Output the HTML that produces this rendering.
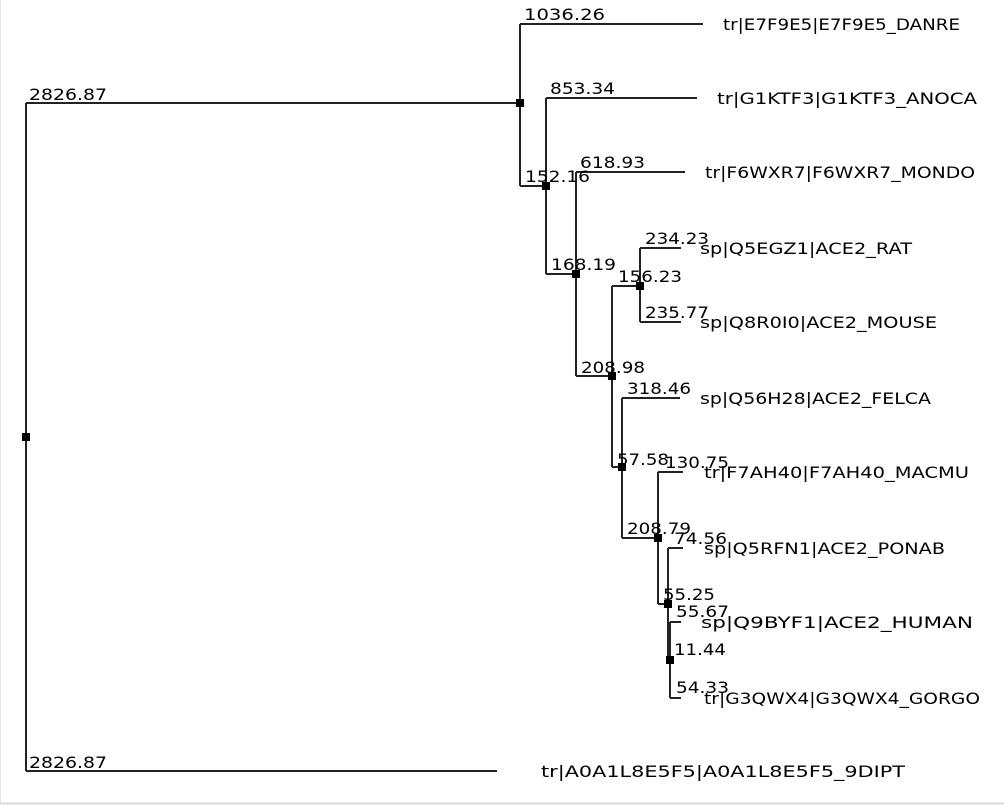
<!DOCTYPE html>
<html><head><meta charset="utf-8"><style>html,body{margin:0;padding:0;background:#fff}svg{display:block}</style></head>
<body>
<svg width="1004" height="806" viewBox="0 0 1004 806" xmlns="http://www.w3.org/2000/svg" font-family="'DejaVu Sans','Liberation Sans',sans-serif" font-size="16" fill="#000">
<line x1="0.5" y1="0" x2="0.5" y2="803" stroke="#e4e4e4"/>
<line x1="0" y1="803.5" x2="1004" y2="803.5" stroke="#d8d8d8" stroke-width="2"/>
<g stroke="#222" stroke-width="2" fill="none">
<path d="M26 103V771M26 103H520M26 771H497"/>
<path d="M520 24V186M520 24H703M520 186H546"/>
<path d="M546 98V274M546 98H697M546 274H576"/>
<path d="M576 172V376M576 172H685M576 376H612"/>
<path d="M612 286V467M612 286H640M612 467H622"/>
<path d="M640 248V322M640 248H681M640 322H681"/>
<path d="M622 398V538M622 398H680M622 538H658"/>
<path d="M658 472V604M658 472H683M658 604H668"/>
<path d="M668 548V660M668 548H683M668 660H670"/>
<path d="M670 622V698M670 622H681M670 698H681"/>
</g>
<g>
<rect x="22" y="433" width="8" height="8"/>
<rect x="516" y="99" width="8" height="8"/>
<rect x="542" y="182" width="8" height="8"/>
<rect x="572" y="270" width="8" height="8"/>
<rect x="608" y="372" width="8" height="8"/>
<rect x="636" y="282" width="8" height="8"/>
<rect x="618" y="463" width="8" height="8"/>
<rect x="654" y="534" width="8" height="8"/>
<rect x="664" y="600" width="8" height="8"/>
<rect x="666" y="656" width="8" height="8"/>
</g>
<g>
<text x="29" y="100" textLength="78" lengthAdjust="spacingAndGlyphs">2826.87</text>
<text x="29" y="768" textLength="78" lengthAdjust="spacingAndGlyphs">2826.87</text>
<text x="524" y="20" textLength="81" lengthAdjust="spacingAndGlyphs">1036.26</text>
<text x="550" y="94" textLength="65" lengthAdjust="spacingAndGlyphs">853.34</text>
<text x="525" y="182" textLength="65" lengthAdjust="spacingAndGlyphs">152.16</text>
<text x="580" y="168" textLength="65" lengthAdjust="spacingAndGlyphs">618.93</text>
<text x="551" y="270" textLength="65" lengthAdjust="spacingAndGlyphs">168.19</text>
<text x="645" y="244" textLength="64" lengthAdjust="spacingAndGlyphs">234.23</text>
<text x="618" y="282" textLength="64" lengthAdjust="spacingAndGlyphs">156.23</text>
<text x="645" y="318" textLength="64" lengthAdjust="spacingAndGlyphs">235.77</text>
<text x="581" y="373" textLength="64" lengthAdjust="spacingAndGlyphs">208.98</text>
<text x="627" y="394" textLength="64" lengthAdjust="spacingAndGlyphs">318.46</text>
<text x="617" y="465" textLength="52" lengthAdjust="spacingAndGlyphs">57.58</text>
<text x="665" y="468" textLength="64" lengthAdjust="spacingAndGlyphs">130.75</text>
<text x="627" y="534" textLength="64" lengthAdjust="spacingAndGlyphs">208.79</text>
<text x="674" y="544" textLength="53" lengthAdjust="spacingAndGlyphs">74.56</text>
<text x="663" y="600" textLength="52" lengthAdjust="spacingAndGlyphs">55.25</text>
<text x="676" y="617" textLength="53" lengthAdjust="spacingAndGlyphs">55.67</text>
<text x="674" y="655" textLength="52" lengthAdjust="spacingAndGlyphs">11.44</text>
<text x="676" y="693" textLength="53" lengthAdjust="spacingAndGlyphs">54.33</text>
</g>
<g>
<text x="723" y="30" textLength="237" lengthAdjust="spacingAndGlyphs">tr|E7F9E5|E7F9E5_DANRE</text>
<text x="717" y="104" textLength="260" lengthAdjust="spacingAndGlyphs">tr|G1KTF3|G1KTF3_ANOCA</text>
<text x="705" y="178" textLength="270" lengthAdjust="spacingAndGlyphs">tr|F6WXR7|F6WXR7_MONDO</text>
<text x="700" y="254" textLength="212" lengthAdjust="spacingAndGlyphs">sp|Q5EGZ1|ACE2_RAT</text>
<text x="700" y="328" textLength="237" lengthAdjust="spacingAndGlyphs">sp|Q8R0I0|ACE2_MOUSE</text>
<text x="700" y="404" textLength="231" lengthAdjust="spacingAndGlyphs">sp|Q56H28|ACE2_FELCA</text>
<text x="704" y="478" textLength="265" lengthAdjust="spacingAndGlyphs">tr|F7AH40|F7AH40_MACMU</text>
<text x="704" y="554" textLength="241" lengthAdjust="spacingAndGlyphs">sp|Q5RFN1|ACE2_PONAB</text>
<text x="701" y="628" textLength="272" lengthAdjust="spacingAndGlyphs">sp|Q9BYF1|ACE2_HUMAN</text>
<text x="704" y="704" textLength="276" lengthAdjust="spacingAndGlyphs">tr|G3QWX4|G3QWX4_GORGO</text>
<text x="541" y="777" textLength="364" lengthAdjust="spacingAndGlyphs">tr|A0A1L8E5F5|A0A1L8E5F5_9DIPT</text>
</g>
</svg>
</body></html>
